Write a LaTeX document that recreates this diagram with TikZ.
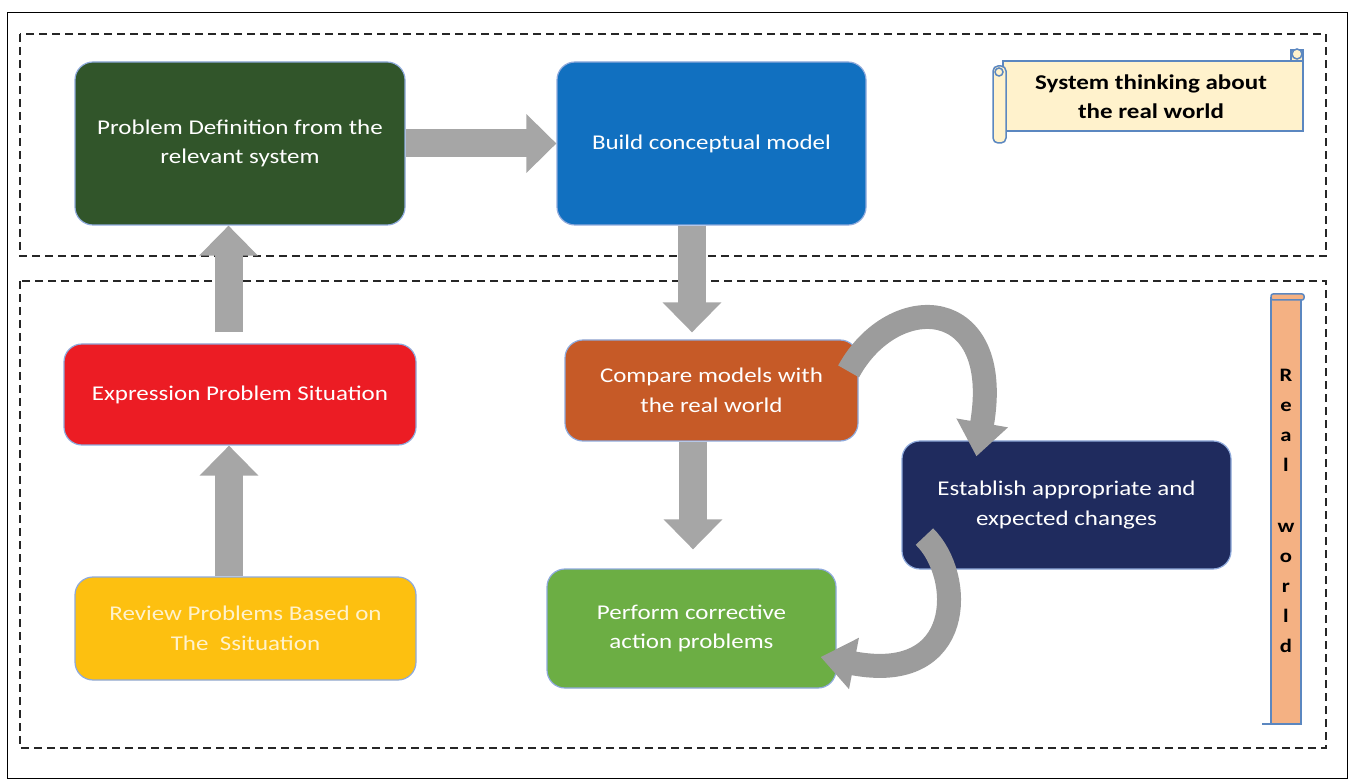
\documentclass[tikz,border=0pt]{standalone}
\usepackage{fontspec}
\setmainfont{Carlito}[FakeStretch=1.19]
\usepackage{xcolor}
\usetikzlibrary{arrows.meta,positioning,calc}
\definecolor{DefGreen}{HTML}{31552A}
\definecolor{ModelBlue}{HTML}{1170C0}
\definecolor{ExprRed}{HTML}{EC1C24}
\definecolor{ReviewYellow}{HTML}{FDC010}
\definecolor{CompareOrange}{HTML}{C65A27}
\definecolor{ChangeNavy}{HTML}{1F2B5E}
\definecolor{ActionGreen}{HTML}{6CAE44}
\definecolor{EdgeBlue}{HTML}{8EA9DB}
\definecolor{ArrowGrey}{HTML}{A6A6A6}
\definecolor{BentGrey}{HTML}{9C9C9C}
\definecolor{ScrollCream}{HTML}{FFF2CC}
\definecolor{ScrollPeach}{HTML}{F4B183}
\definecolor{ScrollEdge}{HTML}{5B87C0}

\begin{document}
\begin{tikzpicture}[x=1pt, y=-1pt,
  box/.style={draw=EdgeBlue, line width=1.2pt, rounded corners=18pt, align=center, text=white, inner sep=0pt, font=\fontsize{21}{29.5}\selectfont},
  bigarrow/.style={draw=ArrowGrey, line width=28pt, -{Triangle[length=30pt,width=57pt]}},
  bentarrow/.style={draw=BentGrey, line width=24pt, -{Triangle[length=34pt,width=50pt]}},
  zone/.style={dash pattern=on 8pt off 5pt, line width=1.8pt, draw=black!85},
  scrolledge/.style={draw=ScrollEdge, line width=1.5pt}
]
\useasboundingbox (0,0) rectangle (1366,783);
\draw[line width=1pt] (7,13) rectangle (1347,778);
\draw[zone] (20,34) rectangle (1326,256);
\draw[zone] (20,281) rectangle (1326,748);

% system thinking side
\node[box, fill=DefGreen, minimum width=330pt, minimum height=163pt] (probdef) at (240,143.5) {Problem Definition from the\\relevant system};
\node[box, fill=ModelBlue, minimum width=309pt, minimum height=163pt] (concept) at (711.5,143.5) {Build conceptual model};

% real world side
\node[box, fill=ExprRed, minimum width=352pt, minimum height=101pt] (expr) at (240,394.5) {Expression Problem Situation};
\node[box, fill=ReviewYellow, text=ScrollCream, minimum width=341pt, minimum height=103pt] (review) at (245.5,628.5) {Review Problems Based on\\The\ \ Ssituation};
\node[box, fill=CompareOrange, minimum width=293pt, minimum height=101pt] (compare) at (711.5,390.5) {Compare models with\\the real world};
\node[box, fill=ChangeNavy, minimum width=329pt, minimum height=128pt] (establish) at (1066.5,505) {Establish appropriate and\\expected changes};
\node[box, fill=ActionGreen, minimum width=289pt, minimum height=119pt] (perform) at (691.5,628.5) {Perform corrective\\action problems};

% scrolls
\draw[scrolledge, fill=ScrollCream] (1291,61) rectangle (1303,50);
\draw[scrolledge, fill=ScrollCream] (1297,54) circle (5pt);
\draw[scrolledge, fill=ScrollCream] (1003,61) rectangle (1303,131);
\draw[scrolledge, fill=ScrollCream, rounded corners=5pt] (993,66) rectangle (1006,143);
\draw[scrolledge, fill=ScrollCream] (999,72) circle (4pt);
\node[font=\bfseries\fontsize{21}{29}\selectfont, align=center] (title) at (1151,97) {System thinking about\\the real world};

\draw[scrolledge, fill=ScrollPeach] (1271,298) rectangle (1301,724);
\draw[scrolledge, fill=ScrollPeach, rounded corners=2pt] (1271,294) rectangle (1304,300);
\draw[scrolledge] (1262,724) -- (1271,724);
\node[font=\bfseries\fontsize{19}{30.2}\selectfont, align=center] (realworld) at (1286,511) {R\\e\\a\\l\\\mbox{}\\w\\o\\r\\l\\d};

% arrows
\draw[bigarrow] (probdef.east) -- (concept.west);
\draw[bigarrow] ([xshift=-19.5pt]concept.south) -- ([xshift=-19.5pt,yshift=7pt]compare.north);
\draw[bigarrow] ([xshift=-11.5pt,yshift=11pt]expr.north) -- ([xshift=-11.5pt]probdef.south);
\draw[bigarrow] ([xshift=-16.5pt]review.north) -- ([xshift=-11pt]expr.south);
\draw[bigarrow] ([xshift=-18.5pt]compare.south) -- ([xshift=1.5pt,yshift=19pt]perform.north);

\draw[bentarrow] ([xshift=-10pt,yshift=-32pt]compare.north east) .. controls +(45,-82) and +(28,-162) .. ([xshift=75pt,yshift=-16pt]establish.north west);
\draw[bentarrow] ([xshift=23pt,yshift=33pt]establish.south west) .. controls +(40,39) and +(145,28) .. ([xshift=-16pt,yshift=-28.5pt]perform.east);
\end{tikzpicture}
\end{document}
